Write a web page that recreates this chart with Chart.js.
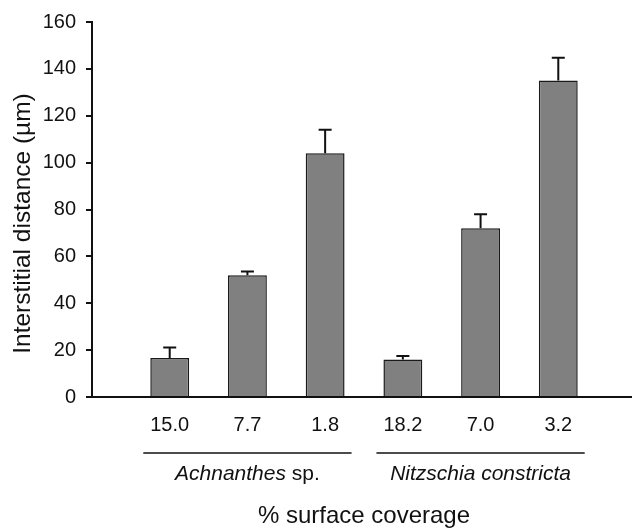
<!DOCTYPE html>
<html>
<head>
<meta charset="utf-8">
<script src="https://cdn.jsdelivr.net/npm/chart.js@4.4.0/dist/chart.umd.min.js"></script>
<style>
  html, body { margin: 0; padding: 0; background: #fff; }
  #wrap { width: 632px; height: 531px; overflow: hidden; }
</style>
</head>
<body>
<div id="wrap"><canvas id="gaps" width="636" height="531"></canvas></div>
<script>
// % surface coverage for each treatment
const coverage = ['15.0', '7.7', '1.8', '18.2', '7.0', '3.2'];
// interstitial distance (µm) and upper error
const distance = [16.6, 52, 104, 16, 72, 135];
const distanceErr = [4.5, 1.5, 10, 1.5, 6, 9.7];
// which bars belong to which species
const species = [
    { italic: 'Achnanthes', plain: ' sp.', from: 0, to: 2 },
    { italic: 'Nitzschia constricta', plain: '', from: 3, to: 5 }
];
const yMin = 0, yMax = 160, yStep = 20;
const yTitle = 'Interstitial distance (µm)';
const xTitle = '% surface coverage';

const FONT = '"Liberation Sans", Arial, Helvetica, sans-serif';
const INK = '#111';

// empty slot on both ends so the first bar sits one step from the axis
const labels = [''].concat(coverage, ['']);
const values = [null].concat(distance, [null]);
const errs = [null].concat(distanceErr, [null]);

const errorBars = {
    id: 'errorBars',
    afterDatasetsDraw(chart) {
        const meta = chart.getDatasetMeta(0);
        const y = chart.scales.y;
        const ctx = chart.ctx;
        ctx.save();
        ctx.strokeStyle = INK;
        ctx.lineWidth = 2;
        meta.data.forEach((bar, i) => {
            if (values[i] == null) return;
            const top = y.getPixelForValue(values[i] + errs[i]);
            ctx.beginPath();
            ctx.moveTo(bar.x, bar.y);
            ctx.lineTo(bar.x, top);
            ctx.moveTo(bar.x - 6.5, top);
            ctx.lineTo(bar.x + 6.5, top);
            ctx.stroke();
        });
        ctx.restore();
    }
};

// species brackets under the tick labels + the y title (sits a bit low in the original)
const extraText = {
    id: 'extraText',
    afterDraw(chart) {
        const x = chart.scales.x;
        const area = chart.chartArea;
        const ctx = chart.ctx;
        const slot = x.getPixelForValue(2) - x.getPixelForValue(1);
        const lineY = area.bottom + 56;
        const textY = area.bottom + 83;
        ctx.save();
        ctx.strokeStyle = INK;
        ctx.fillStyle = INK;
        ctx.lineWidth = 1.5;
        species.forEach(g => {
            const x1 = x.getPixelForValue(g.from + 1) - slot * 0.34;
            const x2 = x.getPixelForValue(g.to + 1) + slot * 0.34;
            ctx.beginPath();
            ctx.moveTo(x1, lineY);
            ctx.lineTo(x2, lineY);
            ctx.stroke();

            ctx.font = 'italic 21px ' + FONT;
            const wi = ctx.measureText(g.italic).width;
            ctx.font = '21px ' + FONT;
            const wp = ctx.measureText(g.plain).width;
            const start = (x1 + x2) / 2 - (wi + wp) / 2;
            ctx.textBaseline = 'alphabetic';
            ctx.textAlign = 'left';
            ctx.font = 'italic 21px ' + FONT;
            ctx.fillText(g.italic, start, textY);
            ctx.font = '21px ' + FONT;
            ctx.fillText(g.plain, start + wi, textY);
        });

        ctx.translate(23, (area.top + area.bottom) / 2 + 14);
        ctx.rotate(-Math.PI / 2);
        ctx.font = '24.5px ' + FONT;
        ctx.textAlign = 'center';
        ctx.textBaseline = 'middle';
        ctx.fillText(yTitle, 0, 0);
        ctx.restore();
    }
};

const ctx = document.getElementById('gaps').getContext('2d');
const chart = new Chart(ctx, {
    type: 'bar',
    data: {
        labels: labels,
        datasets: [{
            data: values,
            backgroundColor: '#808080',
            borderColor: '#1a1a1a',
            borderWidth: 1.5,
            categoryPercentage: 1,
            barPercentage: 0.5
        }]
    },
    options: {
        responsive: false,
        animation: false,
        layout: { padding: { top: 19, left: 0, right: 0, bottom: 0 } },
        plugins: {
            legend: { display: false },
            tooltip: { enabled: false }
        },
        scales: {
            x: {
                offset: false,
                grid: {
                    display: true,
                    drawOnChartArea: false,
                    drawTicks: true,
                    tickLength: 16,
                    color: 'rgba(0,0,0,0)'
                },
                border: { display: true, color: INK, width: 2 },
                ticks: {
                    color: INK,
                    padding: 0,
                    maxRotation: 0,
                    autoSkip: false,
                    font: { family: FONT, size: 20 }
                },
                title: {
                    display: true,
                    text: xTitle,
                    color: INK,
                    font: { family: FONT, size: 24 },
                    padding: { top: 0, bottom: 0 }
                },
                afterFit: s => { s.height = 134; }
            },
            y: {
                min: yMin,
                max: yMax,
                grid: {
                    drawOnChartArea: false,
                    drawTicks: true,
                    tickLength: 6,
                    color: INK,
                    lineWidth: 2
                },
                border: { display: true, color: INK, width: 2 },
                ticks: {
                    stepSize: yStep,
                    color: INK,
                    padding: 10,
                    font: { family: FONT, size: 20 }
                },
                title: { display: false },
                afterFit: s => { s.width = 92; }
            }
        }
    },
    plugins: [errorBars, extraText]
});
</script>
</body>
</html>
